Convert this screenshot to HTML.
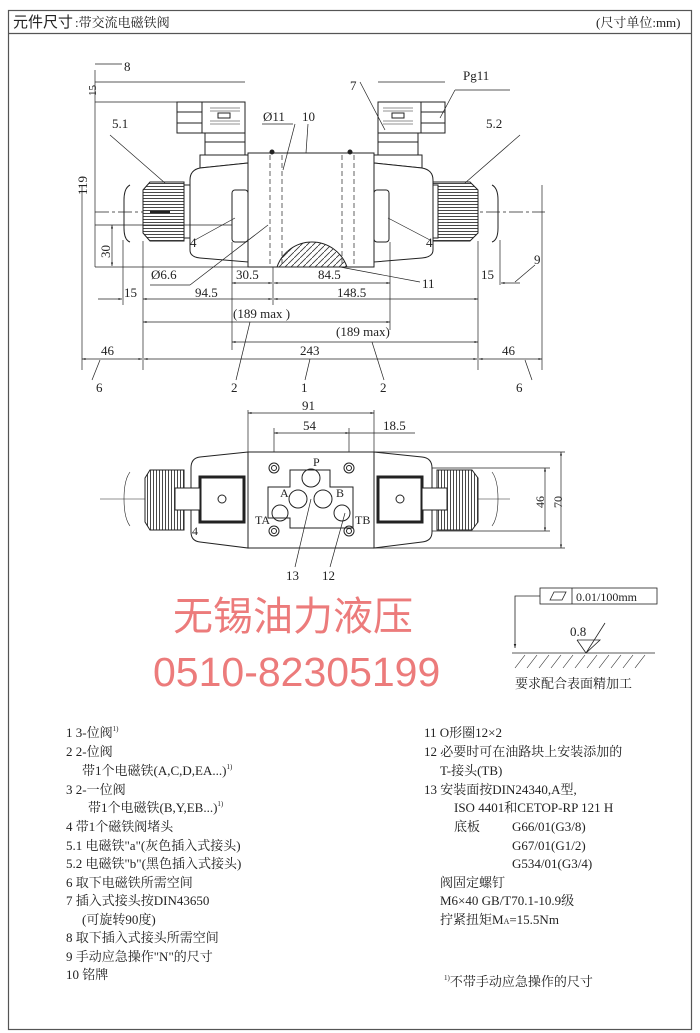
<!DOCTYPE html>
<html><head><meta charset="utf-8"><style>
body{margin:0;background:#fff;}
svg{display:block}
text{font-family:"Liberation Serif","Noto Serif CJK SC",serif;fill:#222}
.c{font-family:"Liberation Serif","Noto Serif CJK SC","Noto Sans CJK SC",serif}
</style></head><body>
<svg width="700" height="1033" viewBox="0 0 700 1033" xmlns="http://www.w3.org/2000/svg">
<defs>
<marker id="a" viewBox="0 0 10 10" refX="10" refY="5" markerWidth="7" markerHeight="5" orient="auto-start-reverse"><path d="M0,2 L10,5 L0,8z" fill="#222"/></marker>
<pattern id="kn" width="3" height="3" patternUnits="userSpaceOnUse"><rect width="3" height="3" fill="#fff"/><line x1="0" y1="0.5" x2="3" y2="0.5" stroke="#333" stroke-width="0.9"/></pattern>
<pattern id="kv" width="3" height="3" patternUnits="userSpaceOnUse"><rect width="3" height="3" fill="#fff"/><line x1="0.5" y1="0" x2="0.5" y2="3" stroke="#333" stroke-width="0.9"/></pattern>
<pattern id="hatch" width="6" height="6" patternUnits="userSpaceOnUse"><line x1="0" y1="6" x2="6" y2="0" stroke="#333" stroke-width="0.8"/></pattern>
</defs>
<!-- frame -->
<rect x="8.5" y="10.5" width="683" height="1019" fill="none" stroke="#555" stroke-width="1.2"/>
<line x1="8" y1="33.5" x2="692" y2="33.5" stroke="#555" stroke-width="1.2"/>
<text x="13" y="27" font-size="15" class="c" style="font-family:'Noto Sans CJK SC',sans-serif" fill="#111">元件尺寸</text>
<text x="75" y="27" font-size="13" class="c">:带交流电磁铁阀</text>
<text x="596" y="27" font-size="13" class="c">(尺寸单位:mm)</text>

<g stroke="#222" stroke-width="1" fill="none">
<!-- TOP VIEW -->
<!-- centerline -->
<line x1="95" y1="212" x2="545" y2="212" stroke-dasharray="14,3,3,3" stroke-width="0.7"/>
<!-- left connector -->
<rect x="177" y="102" width="25" height="31" fill="#fff"/>
<line x1="177" y1="112" x2="202" y2="112"/><line x1="177" y1="123" x2="202" y2="123"/>
<rect x="202" y="102" width="43" height="31" fill="#fff"/>
<g stroke-width="0.6"><line x1="210" y1="108" x2="240" y2="108"/><line x1="210" y1="111" x2="240" y2="111"/><line x1="210" y1="121" x2="240" y2="121"/><line x1="210" y1="124" x2="240" y2="124"/></g>
<rect x="218" y="113" width="12" height="5" fill="#fff"/>
<rect x="205" y="133" width="40" height="22" fill="#fff"/>
<line x1="205" y1="142" x2="245" y2="142"/>
<path d="M200,155 L248,155 L248,163 L200,168z" fill="#fff"/>
<!-- right connector -->
<rect x="378" y="102" width="43" height="31" fill="#fff"/>
<g stroke-width="0.6"><line x1="383" y1="108" x2="413" y2="108"/><line x1="383" y1="111" x2="413" y2="111"/><line x1="383" y1="121" x2="413" y2="121"/><line x1="383" y1="124" x2="413" y2="124"/></g>
<rect x="392" y="113" width="12" height="5" fill="#fff"/>
<rect x="421" y="102" width="24" height="31" fill="#fff"/>
<line x1="421" y1="112" x2="445" y2="112"/><line x1="421" y1="123" x2="445" y2="123"/>
<rect x="378" y="133" width="40" height="22" fill="#fff"/>
<line x1="378" y1="142" x2="418" y2="142"/>
<path d="M374,155 L422,155 L422,168 L374,163z" fill="#fff"/>
<!-- housings -->
<path d="M248,163 L200,168 Q190,170 190,180 L190,250 Q190,257 200,258 L248,262z" fill="#fff"/>
<path d="M374,163 L422,168 Q433,170 433,180 L433,250 Q433,257 422,258 L374,262z" fill="#fff"/>
<!-- nuts -->
<path d="M184,182 L150,182 L143,190 L143,233 L150,241 L184,241z" fill="url(#kn)"/>
<rect x="184" y="185" width="6" height="53" fill="#fff"/>
<path d="M433,182 L470,182 L478,190 L478,233 L470,241 L433,241z" fill="url(#kn)"/>
<rect x="433" y="185" width="5" height="53" fill="#fff"/>
<line x1="150" y1="212" x2="170" y2="212" stroke-width="2"/>
<!-- plug nuts 4 -->
<rect x="232" y="190" width="16" height="52" rx="3" fill="#fff"/>
<rect x="374" y="190" width="15" height="52" rx="3" fill="#fff"/>
<!-- body -->
<rect x="248" y="153" width="126" height="114" fill="#fff"/>
<path d="M277,267 A37,37 0 0 1 347,267z" fill="url(#hatch)"/>
<g stroke-dasharray="5,3" stroke-width="0.7"><line x1="270" y1="155" x2="270" y2="267"/><line x1="282" y1="155" x2="282" y2="267"/><line x1="342" y1="155" x2="342" y2="267"/><line x1="354" y1="155" x2="354" y2="267"/></g>
<circle cx="272" cy="152" r="2" fill="#222"/><circle cx="350" cy="152" r="2" fill="#222"/>
<!-- side marks left/right of nuts -->
<path d="M130,185 Q124,188 124,200 L124,228 Q124,240 130,242"/>
<path d="M492,185 Q498,188 498,200 L498,228 Q498,240 492,242"/>
<!-- dimension extension lines -->
<g stroke-width="0.7">
<line x1="82" y1="185" x2="82" y2="370"/><line x1="542" y1="185" x2="542" y2="370"/>
<line x1="143" y1="241" x2="143" y2="370"/><line x1="478" y1="241" x2="478" y2="370"/>
<line x1="123" y1="240" x2="123" y2="305"/><line x1="500" y1="240" x2="500" y2="285"/>
<line x1="232" y1="242" x2="232" y2="350"/><line x1="390" y1="242" x2="390" y2="330"/>
<line x1="273" y1="267" x2="273" y2="305"/>
<line x1="95" y1="267" x2="248" y2="267"/><line x1="95" y1="225" x2="232" y2="225"/>
<line x1="95" y1="70" x2="95" y2="267"/>
<line x1="95" y1="82" x2="245" y2="82"/><line x1="95" y1="102" x2="177" y2="102"/>
<line x1="378" y1="82" x2="445" y2="82"/>
<line x1="95" y1="64" x2="122" y2="64"/>
</g>
<!-- dimension lines with arrows -->
<g stroke-width="0.7" marker-end="url(#a)" marker-start="url(#a)">
<line x1="232" y1="283" x2="272" y2="283"/><line x1="274" y1="283" x2="390" y2="283"/>
<line x1="143" y1="299" x2="272" y2="299"/><line x1="274" y1="299" x2="478" y2="299"/>
<line x1="143" y1="322" x2="390" y2="322"/>
<line x1="232" y1="342" x2="478" y2="342"/>
<line x1="82" y1="359" x2="142" y2="359"/><line x1="144" y1="359" x2="477" y2="359"/><line x1="479" y1="359" x2="542" y2="359"/>
<line x1="112" y1="225" x2="112" y2="266"/>
</g>
<line x1="98" y1="299" x2="122" y2="299" stroke-width="0.7" marker-end="url(#a)"/>
<line x1="520" y1="283" x2="501" y2="283" stroke-width="0.7" marker-end="url(#a)"/>
<!-- leaders -->
<g stroke-width="0.7">
<line x1="110" y1="135" x2="165" y2="183"/>
<line x1="520" y1="135" x2="465" y2="183"/>
<line x1="360" y1="82" x2="385" y2="130"/>
<line x1="455" y1="90" x2="510" y2="90"/><line x1="455" y1="90" x2="440" y2="118"/>
<line x1="262" y1="124" x2="293" y2="124"/><line x1="295" y1="124" x2="283" y2="170"/>
<line x1="308" y1="124" x2="306" y2="153"/>
<line x1="195" y1="240" x2="235" y2="218"/>
<line x1="430" y1="240" x2="388" y2="218"/>
<line x1="150" y1="285" x2="190" y2="285"/><line x1="190" y1="285" x2="268" y2="225"/>
<line x1="340" y1="267" x2="420" y2="282"/>
<line x1="515" y1="282" x2="535" y2="265"/>
<line x1="92" y1="380" x2="100" y2="360"/><line x1="532" y1="380" x2="525" y2="360"/>
<line x1="236" y1="380" x2="250" y2="322"/><line x1="305" y1="380" x2="310" y2="359"/><line x1="384" y1="380" x2="372" y2="342"/>
</g>
</g>
<g font-size="13">
<text x="124" y="71">8</text>
<text x="96" y="96" font-size="11" transform="rotate(-90 96 96)">15</text>
<text x="87" y="195" font-size="13" transform="rotate(-90 87 195)">119</text>
<text x="110" y="258" font-size="13" transform="rotate(-90 110 258)">30</text>
<text x="112" y="128">5.1</text><text x="486" y="128">5.2</text>
<text x="350" y="90">7</text><text x="463" y="80">Pg11</text>
<text x="263" y="121">Ø11</text><text x="302" y="121">10</text>
<text x="190" y="247">4</text><text x="426" y="247">4</text>
<text x="151" y="279">Ø6.6</text>
<text x="236" y="279">30.5</text><text x="318" y="279">84.5</text>
<text x="422" y="288">11</text><text x="481" y="279">15</text><text x="534" y="264">9</text>
<text x="124" y="297">15</text><text x="195" y="297">94.5</text><text x="337" y="297">148.5</text>
<text x="233" y="318">(189 max )</text><text x="336" y="336">(189 max)</text>
<text x="101" y="355">46</text><text x="300" y="355">243</text><text x="502" y="355">46</text>
<text x="96" y="392">6</text><text x="231" y="392">2</text><text x="301" y="392">1</text><text x="380" y="392">2</text><text x="516" y="392">6</text>
</g>

<!-- BOTTOM VIEW -->
<g stroke="#222" stroke-width="1" fill="none">
<line x1="100" y1="499" x2="510" y2="499" stroke-width="0.6"/>
<g stroke-width="0.7">
<line x1="248" y1="410" x2="248" y2="452"/><line x1="374" y1="410" x2="374" y2="452"/>
<line x1="274" y1="428" x2="274" y2="465"/><line x1="349" y1="428" x2="349" y2="465"/>
<line x1="374" y1="452" x2="565" y2="452"/><line x1="374" y1="548" x2="565" y2="548"/>
<line x1="355" y1="468" x2="550" y2="468"/><line x1="355" y1="531" x2="550" y2="531"/>
<line x1="349" y1="433" x2="415" y2="433"/>
</g>
<g stroke-width="0.7" marker-end="url(#a)" marker-start="url(#a)">
<line x1="248" y1="413" x2="374" y2="413"/><line x1="274" y1="433" x2="349" y2="433"/>
<line x1="545" y1="468" x2="545" y2="531"/><line x1="561" y1="452" x2="561" y2="548"/>
</g>
<path d="M248,452 L200,457 Q191,458 191,468 L191,532 Q191,541 200,542 L248,548z" fill="#fff"/>
<path d="M374,452 L422,457 Q432,458 432,468 L432,532 Q432,541 422,542 L374,548z" fill="#fff"/>
<rect x="200" y="477" width="44" height="45" stroke-width="3" fill="#fff"/>
<rect x="378" y="477" width="44" height="45" stroke-width="3" fill="#fff"/>
<circle cx="222" cy="499" r="4"/><circle cx="400" cy="499" r="4"/>
<path d="M184,470 L150,470 L145,478 L145,522 L150,530 L184,530z" fill="url(#kv)"/>
<path d="M437,470 L472,470 L478,478 L478,522 L472,530 L437,530z" fill="url(#kv)"/>
<rect x="175" y="488" width="25" height="22" fill="#fff"/>
<rect x="422" y="488" width="25" height="22" fill="#fff"/>
<rect x="248" y="452" width="126" height="96" fill="#fff"/>
<path d="M290,470 L330,470 L330,487 L353,487 L353,528 L290,528 L290,518 L268,518 L268,487 L290,487z" fill="#fff"/>
<circle cx="311" cy="478" r="9"/><circle cx="298" cy="499" r="9"/><circle cx="323" cy="499" r="9"/>
<circle cx="280" cy="513" r="8"/><circle cx="342" cy="513" r="8"/>
<circle cx="274" cy="468" r="5"/><circle cx="274" cy="468" r="2.5"/>
<circle cx="349" cy="468" r="5"/><circle cx="349" cy="468" r="2.5"/>
<circle cx="274" cy="531" r="5"/><circle cx="274" cy="531" r="2.5"/>
<circle cx="349" cy="531" r="5"/><circle cx="349" cy="531" r="2.5"/>
<g stroke-width="0.7"><line x1="311" y1="499" x2="295" y2="567"/><line x1="345" y1="513" x2="330" y2="567"/></g>
<path d="M130,472 Q124,480 124,499 Q124,518 130,526" stroke-width="0.6"/>
<path d="M492,472 Q498,480 498,499 Q498,518 492,526" stroke-width="0.6"/>
</g>
<g font-size="13">
<text x="302" y="410">91</text><text x="303" y="430">54</text><text x="383" y="430">18.5</text>
<text x="313" y="466" font-size="12">P</text><text x="280" y="497" font-size="12">A</text><text x="336" y="497" font-size="12">B</text>
<text x="255" y="524" font-size="12">TA</text><text x="355" y="524" font-size="12">TB</text>
<text x="192" y="535" font-size="12">4</text>
<text x="286" y="580">13</text><text x="322" y="580">12</text>
<text x="544" y="508" transform="rotate(-90 544 508)" font-size="12">46</text>
<text x="562" y="508" transform="rotate(-90 562 508)" font-size="12">70</text>
</g>

<!-- watermark -->
<text x="173" y="630" font-size="40" fill="#ec7b7b" style="fill:#ec7b7b;font-family:'Noto Sans CJK SC',sans-serif">无锡油力液压</text>
<text x="153" y="686" font-size="41" style="fill:#ec7b7b;font-family:'Liberation Sans',sans-serif">0510-82305199</text>

<!-- surface symbol -->
<g stroke="#222" stroke-width="0.8" fill="none">
<rect x="540" y="588" width="117" height="16"/><line x1="572" y1="588" x2="572" y2="604"/>
<path d="M550,600 L554,592 L566,592 L562,600z"/>
<polyline points="540,596 515,596 515,648" marker-end="url(#a)"/>
<line x1="512" y1="653" x2="655" y2="653"/>
<g stroke-width="0.6"><line x1="515" y1="668" x2="525" y2="655"/><line x1="527" y1="668" x2="537" y2="655"/><line x1="539" y1="668" x2="549" y2="655"/><line x1="551" y1="668" x2="561" y2="655"/><line x1="563" y1="668" x2="573" y2="655"/><line x1="575" y1="668" x2="585" y2="655"/><line x1="587" y1="668" x2="597" y2="655"/><line x1="599" y1="668" x2="609" y2="655"/><line x1="611" y1="668" x2="621" y2="655"/><line x1="623" y1="668" x2="633" y2="655"/><line x1="635" y1="668" x2="645" y2="655"/></g>
<path d="M577,640 L600,640 L586,653 L577,640 M586,653 L605,623"/>
</g>
<text x="576" y="601" font-size="12">0.01/100mm</text>
<text x="570" y="636" font-size="13">0.8</text>
<text x="515" y="688" font-size="13" class="c">要求配合表面精加工</text>

<!-- legend -->
<g font-size="13" class="c">
<text x="66" y="737">1 3-位阀<tspan font-size="7" dy="-6">1)</tspan></text>
<text x="66" y="756">2 2-位阀</text>
<text x="82" y="775">带1个电磁铁(A,C,D,EA...)<tspan font-size="7" dy="-6">1)</tspan></text>
<text x="66" y="794">3 2-一位阀</text>
<text x="88" y="812">带1个电磁铁(B,Y,EB...)<tspan font-size="7" dy="-6">1)</tspan></text>
<text x="66" y="831">4 带1个磁铁阀堵头</text>
<text x="66" y="850">5.1 电磁铁"a"(灰色插入式接头)</text>
<text x="66" y="868">5.2 电磁铁"b"(黑色插入式接头)</text>
<text x="66" y="887">6 取下电磁铁所需空间</text>
<text x="66" y="905">7 插入式接头按DIN43650</text>
<text x="82" y="924">(可旋转90度)</text>
<text x="66" y="942">8 取下插入式接头所需空间</text>
<text x="66" y="961">9 手动应急操作"N"的尺寸</text>
<text x="66" y="979">10 铭牌</text>
<text x="424" y="737">11 O形圈12×2</text>
<text x="424" y="756">12 必要时可在油路块上安装添加的</text>
<text x="440" y="775">T-接头(TB)</text>
<text x="424" y="794">13 安装面按DIN24340,A型,</text>
<text x="454" y="812">ISO 4401和CETOP-RP 121 H</text>
<text x="454" y="831">底板</text><text x="512" y="831">G66/01(G3/8)</text>
<text x="512" y="850">G67/01(G1/2)</text>
<text x="512" y="868">G534/01(G3/4)</text>
<text x="440" y="887">阀固定螺钉</text>
<text x="440" y="905">M6×40 GB/T70.1-10.9级</text>
<text x="440" y="924">拧紧扭矩M<tspan font-size="8">A</tspan>=15.5Nm</text>
<text x="444" y="986"><tspan font-size="7" dy="-6">1)</tspan><tspan dy="6">不带手动应急操作的尺寸</tspan></text>
</g>
</svg>
</body></html>
